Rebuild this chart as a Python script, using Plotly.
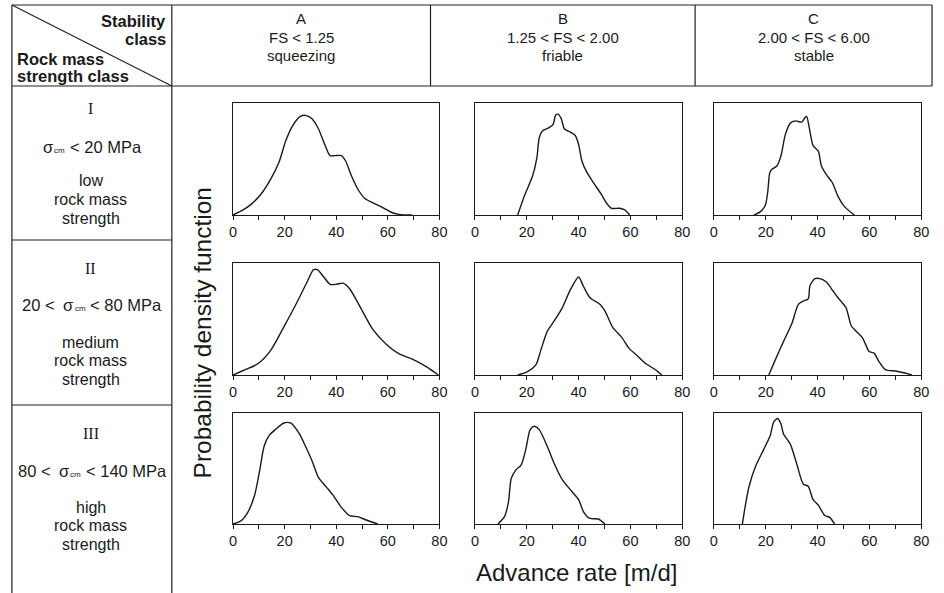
import plotly.graph_objects as go

W, H = 944, 593

# ---------------- data (relative density) ----------------
x_I_A = [0, 3.2, 7, 10.8, 14.6, 17.8, 20.4, 22.9, 26.1, 28, 30.6, 33.1, 35.7, 37.6, 39.5, 42, 43.7, 45.9, 48.4, 51, 54.1, 58, 61.1, 64.3, 69.4]
y_I_A = [0, 0.036, 0.095, 0.185, 0.32, 0.47, 0.66, 0.79, 0.88, 0.89, 0.86, 0.77, 0.62, 0.53, 0.53, 0.53, 0.48, 0.35, 0.23, 0.15, 0.11, 0.066, 0.027, 0.006, 0]

x_I_B = [16.5, 19.0, 22.2, 23.9, 24.8, 26.0, 28.6, 30.2, 31.1, 32.1, 33.3, 34.5, 36.8, 38.7, 40, 41.3, 43.2, 45.7, 48.9, 50.8, 52.7, 55.9, 57.8, 59.7]
y_I_B = [0, 0.166, 0.346, 0.51, 0.69, 0.75, 0.78, 0.81, 0.89, 0.90, 0.86, 0.77, 0.74, 0.71, 0.63, 0.48, 0.38, 0.29, 0.18, 0.105, 0.06, 0.06, 0.045, 0]

x_I_C = [15.5, 18.0, 19.9, 20.8, 21.6, 22.5, 24.4, 25.9, 27.6, 29.5, 31.4, 33.9, 35.2, 35.8, 36.8, 38.3, 40.3, 41.5, 43.4, 45.7, 47.9, 50.4, 54.2]
y_I_C = [0, 0.03, 0.09, 0.21, 0.38, 0.41, 0.44, 0.53, 0.72, 0.82, 0.84, 0.83, 0.87, 0.88, 0.78, 0.62, 0.57, 0.44, 0.36, 0.29, 0.166, 0.075, 0]

x_II_A = [0, 4.5, 9.6, 14.6, 19.7, 24.8, 28.7, 31.2, 32.7, 35, 37.6, 40.1, 42.7, 45.2, 49, 54.1, 59.2, 64.3, 70.1, 75.2, 79.6]
y_II_A = [0, 0.045, 0.10, 0.22, 0.43, 0.65, 0.83, 0.94, 0.94, 0.88, 0.81, 0.81, 0.82, 0.77, 0.62, 0.41, 0.28, 0.19, 0.135, 0.07, 0]

x_II_B = [16.5, 20.3, 23.5, 25.4, 27.9, 30.5, 33.7, 36.8, 40, 41.9, 44.4, 48.3, 50.2, 53.3, 56.5, 59.4, 62.2, 66, 69.8, 72.1]
y_II_B = [0, 0.03, 0.09, 0.22, 0.39, 0.48, 0.60, 0.76, 0.875, 0.79, 0.69, 0.63, 0.57, 0.42, 0.34, 0.24, 0.18, 0.10, 0.045, 0]

x_II_C = [21.2, 23.7, 26.9, 30.1, 32.6, 34.5, 36.4, 37.1, 39, 40.9, 43.4, 46, 47.9, 51, 53, 54.9, 57.4, 59.9, 61.8, 63.7, 66.3, 70.1, 73.3, 76.4]
y_II_C = [0, 0.135, 0.30, 0.46, 0.63, 0.66, 0.68, 0.80, 0.86, 0.86, 0.83, 0.75, 0.69, 0.60, 0.44, 0.39, 0.33, 0.21, 0.195, 0.12, 0.045, 0.036, 0.02, 0]

x_III_A = [0, 3.2, 5.7, 8.3, 10.2, 12.1, 14.1, 16.6, 19.7, 22.3, 25.5, 28, 30.6, 33.1, 36.3, 38.9, 42, 45.2, 48.4, 51.6, 56.1]
y_III_A = [0, 0.03, 0.105, 0.255, 0.465, 0.705, 0.80, 0.855, 0.91, 0.91, 0.82, 0.705, 0.57, 0.42, 0.33, 0.255, 0.15, 0.075, 0.066, 0.036, 0]

x_III_B = [8.9, 11.4, 12.95, 14, 15.9, 17.8, 19.7, 21.3, 22.9, 24.8, 27.9, 30.5, 33.7, 37.5, 40, 41.9, 44.4, 47.6, 50.2]
y_III_B = [0, 0.066, 0.20, 0.41, 0.49, 0.53, 0.68, 0.85, 0.88, 0.85, 0.70, 0.55, 0.40, 0.29, 0.22, 0.11, 0.05, 0.045, 0]

x_III_C = [11, 12.1, 13.6, 16.1, 19.3, 21.8, 23.1, 24.6, 25.9, 26.9, 29.5, 32, 34.5, 36.4, 38.3, 40.3, 42.8, 44.7, 46.6]
y_III_C = [0, 0.16, 0.34, 0.52, 0.675, 0.80, 0.92, 0.95, 0.90, 0.81, 0.72, 0.54, 0.36, 0.34, 0.22, 0.17, 0.076, 0.06, 0]

curves = [
    [(x_I_A, y_I_A), (x_I_B, y_I_B), (x_I_C, y_I_C)],
    [(x_II_A, y_II_A), (x_II_B, y_II_B), (x_II_C, y_II_C)],
    [(x_III_A, y_III_A), (x_III_B, y_III_B), (x_III_C, y_III_C)],
]

tick_vals = [0, 20, 40, 60, 80]
tick_text = ["0", "20", "40", "60", "80"]

col_letters = ["A", "B", "C"]
col_ranges = ["FS < 1.25", "1.25 < FS < 2.00", "2.00 < FS < 6.00"]
col_names = ["squeezing", "friable", "stable"]

row_numerals = ["I", "II", "III"]
row_lower = ["", "20 <", "80 <"]
row_upper = ["< 20 MPa", "< 80 MPa", "< 140 MPa"]
row_level = ["low", "medium", "high"]

# ---------------- layout geometry (pixels) ----------------
col_px = [(232, 441), (477, 687), (719, 929)]
row_px = [(103, 215), (263, 375), (413, 524)]

def px(x):
    return x / W

def py(y):
    return 1 - y / H

FONT = "Liberation Sans, Arial, sans-serif"
INK = "#1a1a1a"

fig = go.Figure()
layout = dict(
    width=W, height=H, margin=dict(l=0, r=0, t=0, b=0),
    paper_bgcolor="white", plot_bgcolor="white", showlegend=False,
    font=dict(family=FONT, color=INK),
)

for i in range(3):
    for j in range(3):
        k = i * 3 + j + 1
        xs, ys = curves[i][j]
        sfx = "" if k == 1 else str(k)
        fig.add_trace(go.Scatter(
            x=xs, y=ys, mode="lines",
            line=dict(color=INK, width=1.4, shape="spline", smoothing=0.7),
            xaxis="x" + sfx, yaxis="y" + sfx, hoverinfo="skip"))
        x0, x1 = col_px[j]
        y0, y1 = row_px[i]
        layout["xaxis" + sfx] = dict(
            domain=[px(x0), px(x1)], anchor="y" + sfx, range=[0, 80],
            tickvals=tick_vals, ticktext=tick_text, ticks="outside",
            ticklen=4, tickwidth=1, tickcolor=INK,
            minor=dict(dtick=10, tick0=0, ticks="outside", ticklen=4,
                       tickwidth=1, tickcolor=INK, showgrid=False),
            showline=True, linecolor=INK, linewidth=1, mirror=True,
            showgrid=False, zeroline=False,
            tickfont=dict(size=14.5, color=INK, family=FONT), fixedrange=True)
        layout["yaxis" + sfx] = dict(
            domain=[py(y1), py(y0)], anchor="x" + sfx, range=[0, 1],
            showticklabels=False, ticks="", showline=True, linecolor=INK,
            linewidth=1, mirror=True, showgrid=False, zeroline=False,
            fixedrange=True)

fig.update_layout(**layout)

# ---------------- table lines ----------------
LC = "#222222"
def hline(y, xa, xb):
    fig.add_shape(type="line", xref="paper", yref="paper",
                  x0=px(xa), x1=px(xb), y0=py(y), y1=py(y),
                  line=dict(color=LC, width=1.2))

def vline(x, ya, yb):
    fig.add_shape(type="line", xref="paper", yref="paper",
                  x0=px(x), x1=px(x), y0=py(ya), y1=py(yb),
                  line=dict(color=LC, width=1.2))

hline(5, 8, 940)
hline(86, 8, 940)
vline(8, 5, 593)
vline(170, 5, 593)
vline(432, 5, 86)
vline(700, 5, 86)
vline(940, 5, 86)
hline(240, 8, 170)
hline(405, 8, 170)
fig.add_shape(type="line", xref="paper", yref="paper",
              x0=px(8), y0=py(5), x1=px(170), y1=py(86),
              line=dict(color=LC, width=1.2))

# ---------------- text ----------------
def esc(s):
    return s.replace("<", "&lt;")

def ann(text, x, y, size=13, xanchor="center", yanchor="middle",
        family=FONT, textangle=0, pad=1):
    fig.add_annotation(text=esc(text), x=px(x), y=py(y), xref="paper", yref="paper",
                       showarrow=False, xanchor=xanchor, yanchor=yanchor,
                       align="center", textangle=textangle, borderpad=pad,
                       borderwidth=0,
                       font=dict(size=size, color=INK, family=family))

# approximate Arial / Liberation Sans advance widths (em)
CW = {" ": 0.278, "<": 0.584, "σ": 0.6, "c": 0.5, "m": 0.833, "M": 0.833,
      "P": 0.667, "a": 0.556}
def text_w(s, size):
    return sum(CW.get(ch, 0.556) for ch in s) * size

ann("Stability", 166, 21, size=16.5, xanchor="right") if False else None
fig.add_annotation(text="<b>Stability</b>", x=px(166), y=py(21), xref="paper", yref="paper",
                   showarrow=False, xanchor="right", yanchor="middle",
                   font=dict(size=16.5, color=INK, family=FONT))
fig.add_annotation(text="<b>class</b>", x=px(166), y=py(39), xref="paper", yref="paper",
                   showarrow=False, xanchor="right", yanchor="middle",
                   font=dict(size=16.5, color=INK, family=FONT))
fig.add_annotation(text="<b>Rock mass</b>", x=px(11), y=py(59), xref="paper", yref="paper",
                   showarrow=False, xanchor="left", yanchor="middle",
                   font=dict(size=16.5, color=INK, family=FONT))
fig.add_annotation(text="<b>strength class</b>", x=px(11), y=py(76), xref="paper", yref="paper",
                   showarrow=False, xanchor="left", yanchor="middle",
                   font=dict(size=16.5, color=INK, family=FONT))

centers = [301, 566, 820]
for j in range(3):
    ann(col_letters[j], centers[j], 19, size=15)
    ann(col_ranges[j], centers[j], 37, size=15)
    ann(col_names[j], centers[j], 55, size=15)

num_y = [108, 268, 433]
rng_y = [147, 305, 471]
lvl_y = [181, 342, 507]
FS_R, FS_SUB = 16.5, 8
for i in range(3):
    ann(row_numerals[i], 88, num_y[i], size=16,
        family="Liberation Serif, Times New Roman, serif")
    # range line built from pieces: [lower <] σ cm < upper
    pieces = []
    if row_lower[i]:
        pieces.append((row_lower[i], FS_R, 0, 0))
        pieces.append(("σ", FS_R, 9, 0))
    else:
        pieces.append(("σ", FS_R, 0, 0))
    pieces.append(("cm", FS_SUB, 1.5, 3.5))
    pieces.append((row_upper[i], FS_R, 5, 0))
    total = sum(text_w(t, s) + g for t, s, g, _ in pieces)
    xcur = 88.5 - total / 2
    for t, s, g, dy in pieces:
        xcur += g
        ann(t, xcur, rng_y[i] + dy, size=s, xanchor="left", pad=0)
        xcur += text_w(t, s)
    ann(row_level[i], 88, lvl_y[i], size=16)
    ann("rock mass", 88, lvl_y[i] + 18.5, size=16)
    ann("strength", 88, lvl_y[i] + 37, size=16)

ann("Probability density function", 201, 333, size=24.5, textangle=-90)
ann("Advance rate [m/d]", 580, 572, size=24)

fig.write_html("out.html")
